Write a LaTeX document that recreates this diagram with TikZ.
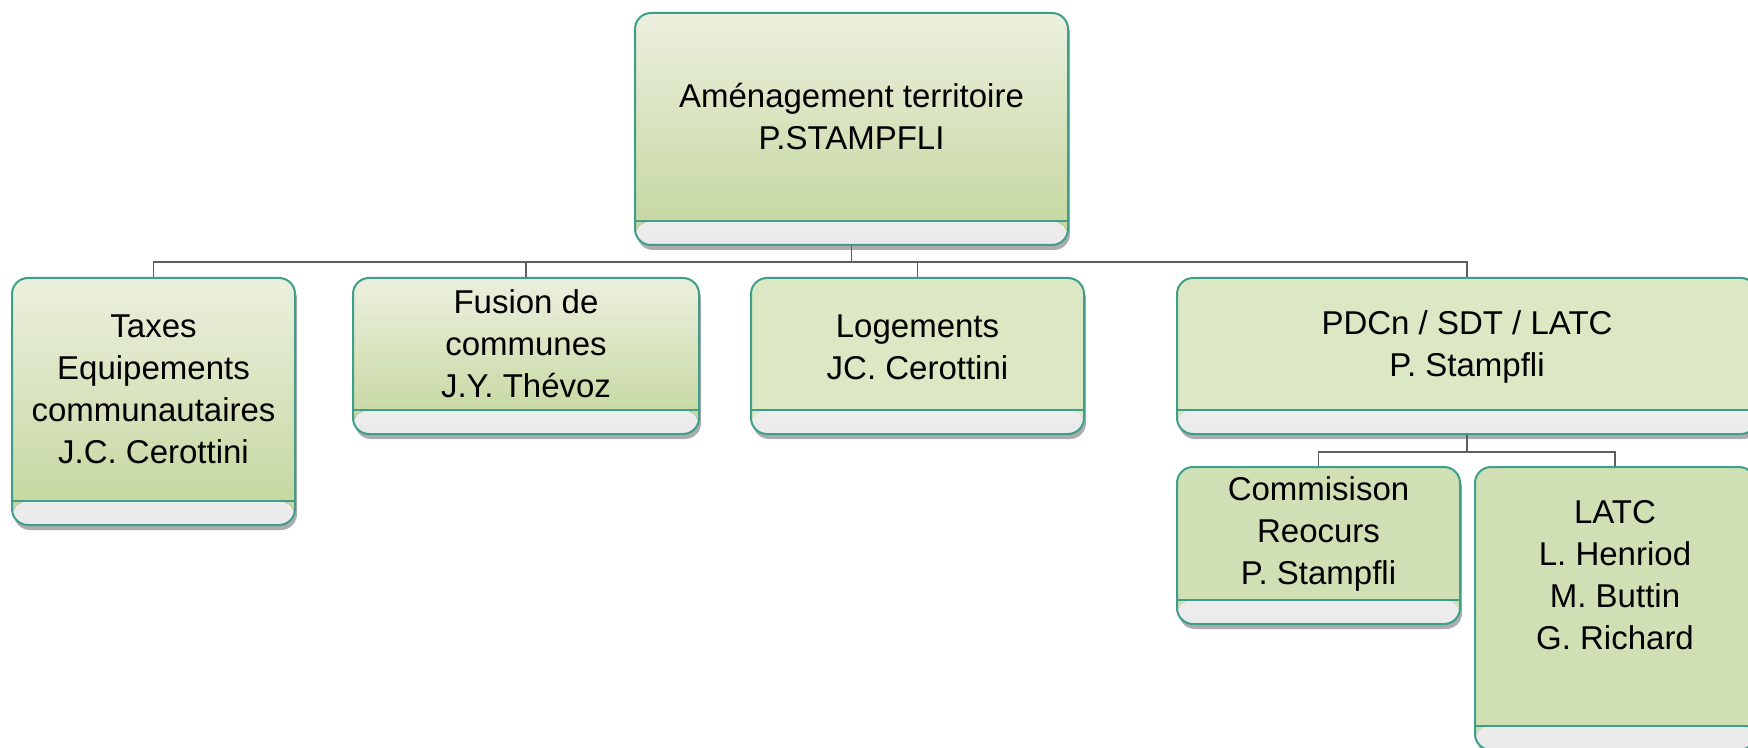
\documentclass[tikz,border=0pt]{standalone}
\usepackage{fontspec}
\setmainfont{Liberation Sans}
\usetikzlibrary{shadows}
\definecolor{boxline}{HTML}{3E9E8A}
\definecolor{gradtop}{HTML}{EBF0DE}
\definecolor{gradbot}{HTML}{C3D59B}
\definecolor{flatlight}{HTML}{DCE7C4}
\definecolor{flatmid}{HTML}{D1E0B4}
\definecolor{bandbot}{HTML}{EAEAEA}
\definecolor{linkgray}{HTML}{5E5E5E}
\begin{document}
\begin{tikzpicture}[x=0.5pt,y=-0.5pt,
  orgbox/.style={draw=boxline, line width=1pt, rounded corners=8pt, inner sep=0pt,
    drop shadow={shadow xshift=1pt, shadow yshift=-2.5pt, opacity=0.5, fill=black!65},
    path picture={
      \fill[top color=white, bottom color=bandbot]
        ([yshift=12pt]path picture bounding box.south west) rectangle (path picture bounding box.south east);
      \draw[boxline, line width=1pt]
        ([yshift=12pt]path picture bounding box.south west) -- ([yshift=12pt]path picture bounding box.south east);
    }},
  gradbox/.style={orgbox, top color=gradtop, bottom color=gradbot},
  lightbox/.style={orgbox, fill=flatlight},
  midbox/.style={orgbox, fill=flatmid},
  boxtext/.style={align=center, font=\fontsize{16.5}{21}\selectfont, yshift=#1},
  boxtext/.default=6pt,
  link/.style={draw=linkgray, line width=0.8pt}]
\useasboundingbox (0,0) rectangle (1748,748);
\clip (0,0) rectangle (1748,748);
\node[gradbox, minimum width=216.5pt, minimum height=116pt,
  label={[boxtext]center:Aménagement territoire\\P.STAMPFLI}] (top) at (851.5,129) {};
\node[gradbox, minimum width=141.5pt, minimum height=123.5pt,
  label={[boxtext]center:Taxes\\Equipements\\communautaires\\J.C. Cerottini}] (taxes) at (153.5,401.5) {};
\node[gradbox, minimum width=173pt, minimum height=78pt,
  label={[boxtext]center:Fusion de\\communes\\J.Y. Thévoz}] (fusion) at (526,356) {};
\node[lightbox, minimum width=166.5pt, minimum height=78pt,
  label={[boxtext=4.5pt]center:Logements\\JC. Cerottini}] (logements) at (917.5,356) {};
\node[lightbox, minimum width=290pt, minimum height=78pt,
  label={[boxtext=4.5pt]center:PDCn / SDT / LATC\\P. Stampfli}] (pdcn) at (1467,356) {};
\node[midbox, minimum width=141.5pt, minimum height=78.5pt,
  label={[boxtext=5.75pt]center:Commisison\\Reocurs\\P. Stampfli}] (commission) at (1318.5,545.5) {};
\node[midbox, minimum width=140pt, minimum height=141.5pt,
  label={[boxtext=16.75pt]center:LATC\\L. Henriod\\M. Buttin\\G. Richard}] (latc) at (1615,608.5) {};
\draw[link] (top.south) -- ++(0,16) coordinate (hub);
\foreach \n in {taxes,fusion,logements,pdcn}
  \draw[link] (hub) -| (\n.north);
\draw[link] (pdcn.south) -- ++(0,17) coordinate (subhub);
\foreach \n in {commission,latc}
  \draw[link] (subhub) -| (\n.north);
\end{tikzpicture}
\end{document}
